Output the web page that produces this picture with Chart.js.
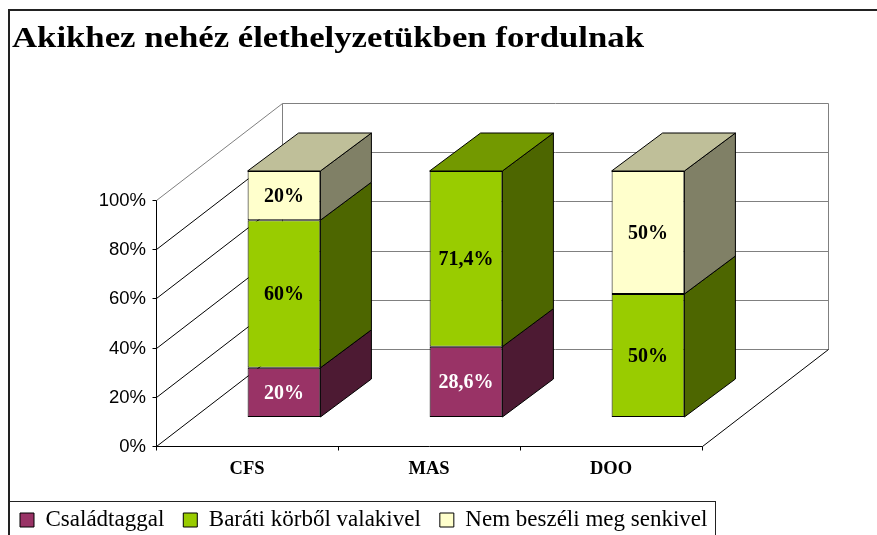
<!DOCTYPE html>
<html>
<head>
<meta charset="utf-8">
<script src="https://cdn.jsdelivr.net/npm/chart.js@4.4.0/dist/chart.umd.min.js"></script>
<style>
  html, body { margin: 0; padding: 0; background: #fff; }
  #wrap { width: 877px; height: 535px; position: relative; }
</style>
</head>
<body>
<div id="wrap"><canvas id="chart"></canvas></div>
<script>
// data
const chartTitle = 'Akikhez nehéz élethelyzetükben fordulnak';
const categories = ['CFS', 'MAS', 'DOO'];
const seriesNames = ['Családtaggal', 'Baráti körből valakivel', 'Nem beszéli meg senkivel'];
const csaladtaggal = [20, 28.6, 0];
const baratiKorbol = [60, 71.4, 50];
const nemBeszeli = [20, 0, 50];
const yTicks = [0, 20, 40, 60, 80, 100];

// excel style 3d colours: front, side (dark), top (medium)
const frontColors = ['#993366', '#99CC00', '#FFFFCC'];
const sideColors = ['#4D1A33', '#4D6600', '#808066'];
const topColors = ['#73264D', '#739900', '#BFBF99'];
const labelColors = ['#FFFFFF', '#000000', '#000000'];

// depth offsets relative to the bar front plane
const FRONT = { dx: -37, dy: 29 };
const BACK = { dx: 89, dy: -68 };
const DEPTH = { dx: 51, dy: -38 };

const px = v => Math.round(v) + 0.5;

function line(ctx, x1, y1, x2, y2) {
  ctx.beginPath();
  ctx.moveTo(px(x1), px(y1));
  ctx.lineTo(px(x2), px(y2));
  ctx.stroke();
}

function poly(ctx, pts, fill) {
  ctx.beginPath();
  ctx.moveTo(pts[0][0], pts[0][1]);
  for (let i = 1; i < pts.length; i++) ctx.lineTo(pts[i][0], pts[i][1]);
  ctx.closePath();
  ctx.fillStyle = fill;
  ctx.fill();
  ctx.stroke();
}

const box3d = {
  id: 'box3d',
  beforeDraw(chart) {
    const ctx = chart.ctx;
    ctx.save();
    ctx.fillStyle = '#fff';
    ctx.fillRect(0, 0, chart.width, chart.height);
    // outer frame of the chart object
    ctx.strokeStyle = '#222';
    ctx.lineWidth = 2;
    ctx.strokeRect(9, 10, chart.width, chart.height);
    // title (stretched a bit like the original)
    ctx.font = 'bold 29px "Liberation Serif", "Times New Roman", serif';
    ctx.fillStyle = '#000';
    ctx.textBaseline = 'alphabetic';
    const w = ctx.measureText(chartTitle).width;
    ctx.translate(12, 47);
    ctx.scale(632 / w, 1);
    ctx.fillText(chartTitle, 0, 0);
    ctx.restore();
  },
  beforeDatasetsDraw(chart) {
    const { ctx, chartArea: a, scales: { y } } = chart;
    const y0 = y.getPixelForValue(0);
    const y100 = y.getPixelForValue(100);
    ctx.save();
    ctx.lineWidth = 1;

    // back wall + its gridlines
    ctx.strokeStyle = '#808080';
    yTicks.forEach(v => {
      const py = y.getPixelForValue(v) + BACK.dy;
      line(ctx, a.left + BACK.dx, py, a.right + BACK.dx, py);
    });
    line(ctx, a.left + BACK.dx, y100 + BACK.dy, a.left + BACK.dx, y0 + BACK.dy);
    line(ctx, a.right + BACK.dx, y100 + BACK.dy, a.right + BACK.dx, y0 + BACK.dy);

    // side wall diagonals
    yTicks.forEach(v => {
      const py = y.getPixelForValue(v);
      ctx.strokeStyle = v === 100 ? '#808080' : '#000';
      line(ctx, a.left + FRONT.dx, py + FRONT.dy, a.left + BACK.dx, py + BACK.dy);
    });

    ctx.strokeStyle = '#000';
    // front value axis + ticks
    line(ctx, a.left + FRONT.dx, y100 + FRONT.dy, a.left + FRONT.dx, y0 + FRONT.dy);
    yTicks.forEach(v => {
      const py = y.getPixelForValue(v) + FRONT.dy;
      line(ctx, a.left + FRONT.dx - 4, py, a.left + FRONT.dx, py);
    });
    // floor
    line(ctx, a.left + FRONT.dx, y0 + FRONT.dy, a.right + FRONT.dx, y0 + FRONT.dy);
    line(ctx, a.right + FRONT.dx, y0 + FRONT.dy, a.right + BACK.dx, y0 + BACK.dy);
    // category ticks
    const step = (a.right - a.left) / categories.length;
    for (let k = 0; k <= categories.length; k++) {
      const x = a.left + FRONT.dx + k * step;
      line(ctx, x, y0 + FRONT.dy, x, y0 + FRONT.dy + 4);
    }
    ctx.restore();
  },
  afterDatasetsDraw(chart) {
    const ctx = chart.ctx;
    ctx.save();
    ctx.lineWidth = 1;
    ctx.strokeStyle = '#000';
    ctx.lineJoin = 'miter';
    categories.forEach((c, i) => {
      let topSeg = null;
      chart.data.datasets.forEach((ds, d) => {
        if (!ds.data[i]) return;
        const bar = chart.getDatasetMeta(d).data[i].getProps(['x', 'y', 'base', 'width'], true);
        const x2 = bar.x + bar.width / 2;
        const yt = Math.min(bar.y, bar.base), yb = Math.max(bar.y, bar.base);
        poly(ctx, [[x2, yt], [x2 + DEPTH.dx, yt + DEPTH.dy], [x2 + DEPTH.dx, yb + DEPTH.dy], [x2, yb]], sideColors[d]);
        topSeg = { d, bar, yt };
      });
      if (topSeg) {
        const { d, bar, yt } = topSeg;
        const x1 = bar.x - bar.width / 2, x2 = bar.x + bar.width / 2;
        poly(ctx, [[x1, yt], [x1 + DEPTH.dx, yt + DEPTH.dy], [x2 + DEPTH.dx, yt + DEPTH.dy], [x2, yt]], topColors[d]);
      }
    });

    // value labels on the front faces
    ctx.font = 'bold 20px "Liberation Serif", "Times New Roman", serif';
    ctx.textAlign = 'center';
    ctx.textBaseline = 'middle';
    chart.data.datasets.forEach((ds, d) => {
      chart.getDatasetMeta(d).data.forEach((el, i) => {
        const v = ds.data[i];
        if (!v) return;
        const bar = el.getProps(['x', 'y', 'base'], true);
        ctx.fillStyle = labelColors[d];
        ctx.fillText(String(v).replace('.', ',') + '%', bar.x, (bar.y + bar.base) / 2 + 1);
      });
    });
    ctx.restore();
  },
  afterDraw(chart) {
    // border round the legend
    const lg = chart.legend;
    const hb = lg.legendHitBoxes;
    if (!hb || !hb.length) return;
    const last = hb[hb.length - 1];
    const right = last.left + last.width + 8;
    const ctx = chart.ctx;
    ctx.save();
    ctx.strokeStyle = '#222';
    ctx.lineWidth = 1;
    ctx.strokeRect(9.5, Math.round(lg.top + 11.5) + 0.5, Math.round(right) - 9, 100);
    ctx.restore();
  }
};

const seriesValues = [csaladtaggal, baratiKorbol, nemBeszeli];

new Chart(document.getElementById('chart'), {
  type: 'bar',
  data: {
    labels: categories,
    datasets: seriesNames.map((name, d) => ({
      label: name,
      data: seriesValues[d],
      backgroundColor: frontColors[d],
      borderColor: '#000',
      borderWidth: 1,
      borderSkipped: false,
      barPercentage: 0.4,
      categoryPercentage: 1
    }))
  },
  options: {
    responsive: true,
    maintainAspectRatio: false,
    animation: false,
    events: [],
    layout: {
      padding: { top: 171, left: 1, right: 38, bottom: -6.5 }
    },
    scales: {
      x: {
        stacked: true,
        grid: { display: false, drawTicks: false },
        border: { display: false },
        ticks: {
          color: '#000',
          font: { family: '"Liberation Serif", "Times New Roman", serif', size: 18.5, weight: 'bold' },
          labelOffset: FRONT.dx,
          padding: 41,
          maxRotation: 0
        },
        afterFit: (s) => { s.height = 72.5; }
      },
      y: {
        stacked: true,
        min: 0,
        max: 100,
        grid: { display: false, drawTicks: false },
        border: { display: false },
        ticks: {
          stepSize: 20,
          color: '#000',
          font: { family: '"Liberation Sans", Arial, sans-serif', size: 18.5 },
          labelOffset: 30,
          padding: 47,
          callback: (v) => v + '%'
        },
        afterFit: (s) => { s.width = 192; }
      },
      spacer: {
        position: 'right',
        grid: { display: false, drawTicks: false },
        border: { display: false },
        ticks: { display: false },
        afterFit: (s) => { s.width = 100; }
      }
    },
    plugins: {
      legend: {
        position: 'bottom',
        align: 'start',
        labels: {
          color: '#000',
          font: { family: '"Liberation Serif", "Times New Roman", serif', size: 23 },
          boxWidth: 14,
          boxHeight: 14,
          padding: 19
        }
      },
      title: { display: false },
      tooltip: { enabled: false }
    }
  },
  plugins: [box3d]
});
</script>
</body>
</html>
